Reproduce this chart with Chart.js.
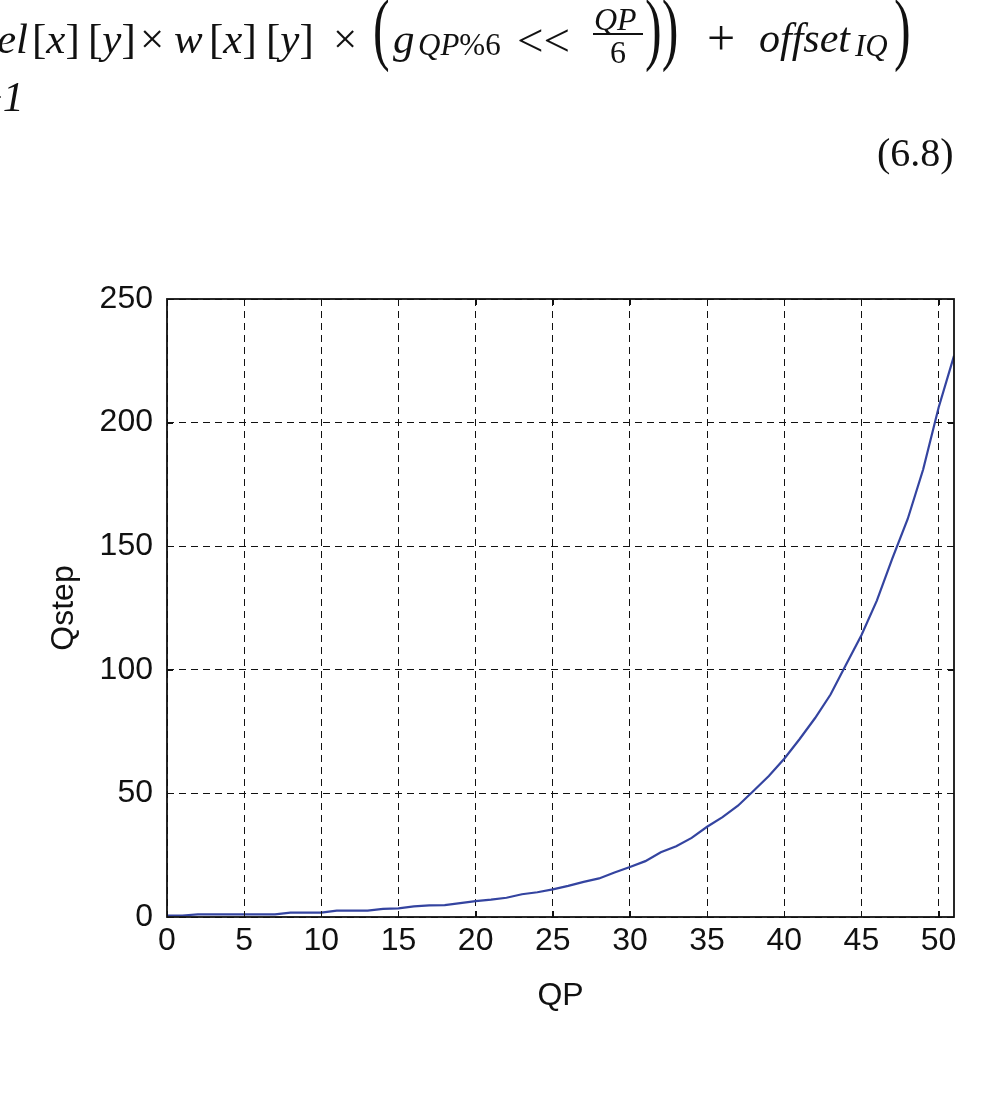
<!DOCTYPE html>
<html>
<head>
<meta charset="utf-8">
<title>Qstep vs QP</title>
<script src="https://cdn.jsdelivr.net/npm/chart.js@4.4.0/dist/chart.umd.min.js"></script>
<style>
  html, body { margin: 0; padding: 0; background: #fff; }
  body { width: 990px; height: 1098px; overflow: hidden; position: relative; }
  #wrap { position: absolute; left: 0; top: 0; width: 990px; height: 1098px; }
  .eq { position: absolute; font-family: "Liberation Serif", "DejaVu Serif", serif; color: #111; line-height: 1; white-space: nowrap; z-index: 2; }
  .eq i { font-style: italic; }
  .big { font-size: 50px; transform: scaleY(1.6); transform-origin: 0 0; top: -12px; }
  .bar { position: absolute; background: #111; height: 2px; z-index: 2; }
</style>
</head>
<body>
<!-- equation fragment from the page above the figure -->
<div class="eq" style="left:-3px;top:17px;font-size:43px;"><i>el</i></div>
<div class="eq" style="left:32px;top:17px;font-size:43px;">[<i>x</i>]</div>
<div class="eq" style="left:88px;top:17px;font-size:43px;">[<i>y</i>]</div>
<div class="eq" style="left:140px;top:17px;font-size:43px;">×</div>
<div class="eq" style="left:174px;top:17px;font-size:43px;"><i>w</i></div>
<div class="eq" style="left:209px;top:17px;font-size:43px;">[<i>x</i>]</div>
<div class="eq" style="left:266px;top:17px;font-size:43px;">[<i>y</i>]</div>
<div class="eq" style="left:333px;top:17px;font-size:43px;">×</div>
<div class="eq big" style="left:373px;">(</div>
<div class="eq" style="left:393px;top:17px;font-size:43px;"><i>g</i></div>
<div class="eq" style="left:418px;top:29px;font-size:31px;"><i>QP</i>%6</div>
<div class="eq" style="left:517px;top:17px;font-size:47px;">&lt;&lt;</div>
<div class="eq" style="left:594px;top:3px;font-size:32px;"><i>QP</i></div>
<div class="bar" style="left:593px;top:33px;width:50px;"></div>
<div class="eq" style="left:610px;top:36px;font-size:32px;">6</div>
<div class="eq big" style="left:645px;">))</div>
<div class="eq" style="left:707px;top:13px;font-size:50px;">+</div>
<div class="eq" style="left:759px;top:17px;font-size:42px;"><i>offset</i></div>
<div class="eq" style="left:855px;top:30px;font-size:31px;"><i>IQ</i></div>
<div class="eq big" style="left:894px;">)</div>
<div class="eq" style="left:-21px;top:76px;font-size:42px;">+<i>1</i></div>
<div class="eq" style="left:877px;top:133px;font-size:40px;">(6.8)</div>

<div id="wrap"><canvas id="chart"></canvas></div>

<script>
// QP on the x axis, step size
const qp = [0, 1, 2, 3, 4, 5, 6, 7, 8, 9, 10, 11, 12, 13, 14, 15, 16, 17, 18, 19, 20,
  21, 22, 23, 24, 25, 26, 27, 28, 29, 30, 31, 32, 33, 34, 35, 36, 37, 38, 39, 40,
  41, 42, 43, 44, 45, 46, 47, 48, 49, 50, 51];
const qstep = [0.6, 0.6, 1.1, 1.1, 1.1, 1.1, 1.1, 1.1, 1.8, 1.8, 1.8, 2.6, 2.6, 2.6,
  3.3, 3.5, 4.3, 4.7, 4.8, 5.6, 6.4, 7.0, 7.8, 9.2, 10, 11.2, 12.6, 14.2, 15.6, 18,
  20.2, 22.6, 26.2, 28.6, 32, 36.5, 40.4, 45, 51, 57, 64, 72, 80.5, 90, 102, 114,
  128, 145, 161, 181, 206, 227];
const xTicks = [0, 5, 10, 15, 20, 25, 30, 35, 40, 45, 50];
const yTicks = [0, 50, 100, 150, 200, 250];

const axisFont = { family: "'Liberation Sans', Arial, sans-serif", size: 32 };

// solid frame plus short inward tick marks, matlab style
const frame = {
  id: "frame",
  afterDraw(chart) {
    const { ctx, chartArea: a, scales } = chart;
    ctx.save();
    ctx.strokeStyle = "#111";
    ctx.lineWidth = 1;
    xTicks.forEach((v) => {
      const px = Math.round(scales.x.getPixelForValue(v)) + 0.5;
      ctx.beginPath();
      ctx.moveTo(px, a.bottom); ctx.lineTo(px, a.bottom - 6);
      ctx.moveTo(px, a.top); ctx.lineTo(px, a.top + 6);
      ctx.stroke();
    });
    yTicks.forEach((v) => {
      const py = Math.round(scales.y.getPixelForValue(v)) + 0.5;
      ctx.beginPath();
      ctx.moveTo(a.left, py); ctx.lineTo(a.left + 6, py);
      ctx.moveTo(a.right, py); ctx.lineTo(a.right - 6, py);
      ctx.stroke();
    });
    ctx.lineWidth = 1.8;
    ctx.strokeRect(a.left, a.top, a.right - a.left, a.bottom - a.top);
    ctx.restore();
  },
};

new Chart(document.getElementById("chart"), {
  type: "line",
  data: {
    datasets: [
      {
        data: qp.map((q, i) => ({ x: q, y: qstep[i] })),
        borderColor: "#3444a0",
        borderWidth: 2.2,
        pointRadius: 0,
        tension: 0,
        fill: false,
      },
    ],
  },
  options: {
    responsive: true,
    maintainAspectRatio: false,
    animation: false,
    events: [],
    layout: { padding: { left: 40, top: 299, right: 36, bottom: 78 } },
    plugins: { legend: { display: false }, tooltip: { enabled: false } },
    scales: {
      x: {
        type: "linear",
        min: 0,
        max: 51,
        afterFit: (s) => { s.height = 103; },
        afterBuildTicks: (s) => { s.ticks = xTicks.map((v) => ({ value: v })); },
        ticks: { font: axisFont, color: "#111", padding: 5, maxRotation: 0 },
        grid: { color: "#111", lineWidth: 1, drawTicks: false },
        border: { display: false, dash: [7, 5] },
        title: { display: true, text: "QP", font: axisFont, color: "#111", padding: { top: 0, bottom: 5 } },
      },
      y: {
        min: 0,
        max: 250,
        afterFit: (s) => { s.width = 127; },
        afterBuildTicks: (s) => { s.ticks = yTicks.map((v) => ({ value: v })); },
        ticks: { font: axisFont, color: "#111", padding: 14 },
        grid: { color: "#111", lineWidth: 1, drawTicks: false },
        border: { display: false, dash: [7, 5] },
        title: { display: true, text: "Qstep", font: axisFont, color: "#111", padding: { top: 5, bottom: 0 } },
      },
    },
  },
  plugins: [frame],
});
</script>
</body>
</html>
